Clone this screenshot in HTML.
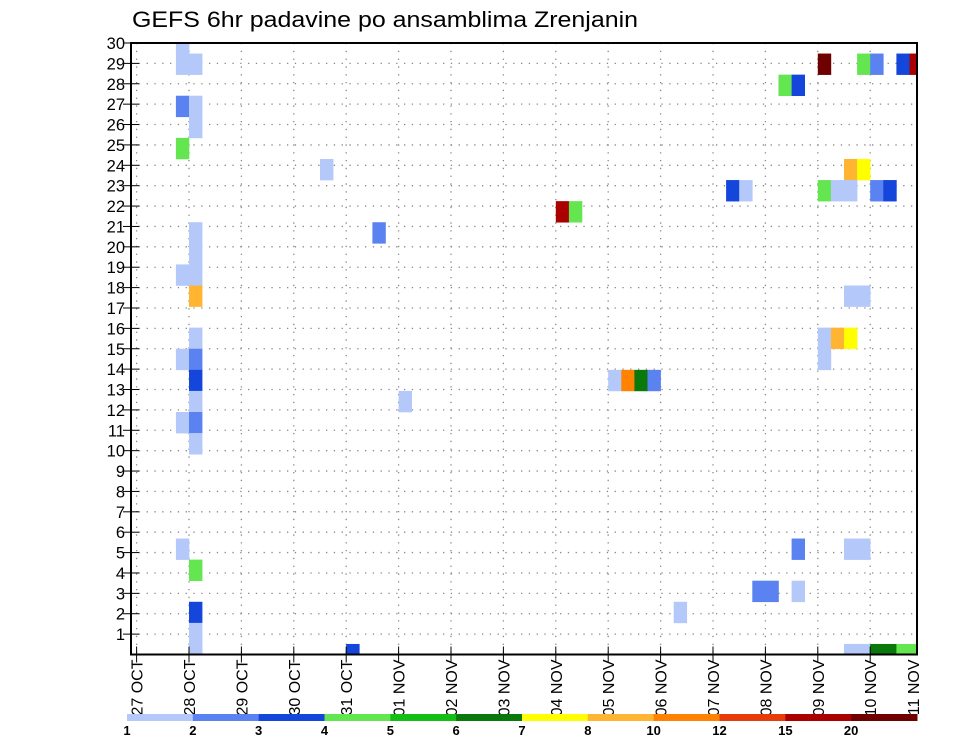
<!DOCTYPE html>
<html><head><meta charset="utf-8"><style>
html,body{margin:0;padding:0;background:#fff;}
svg{display:block;font-family:"Liberation Sans",sans-serif;}
</style></head><body>
<svg id="chart" width="960" height="742" viewBox="0 0 960 742" xmlns="http://www.w3.org/2000/svg">
<text x="132" y="27" font-size="22" textLength="506" lengthAdjust="spacingAndGlyphs" fill="#000">GEFS 6hr padavine po ansamblima Zrenjanin</text>
<defs><clipPath id="pc"><rect x="131" y="43" width="786" height="611.5"/></clipPath></defs>
<g id="grid"></g>
<g id="cells" clip-path="url(#pc)"></g>
<g id="axes"></g>
<g id="cbar"></g>
</svg>
<script>
// categories (color class index), time steps (6h index from 27 OCT 00z), member index
const dayLabels = ["27 OCT","28 OCT","29 OCT","30 OCT","31 OCT","01 NOV","02 NOV","03 NOV","04 NOV","05 NOV","06 NOV","07 NOV","08 NOV","09 NOV","10 NOV","11 NOV"];
const yTicks = [1,2,3,4,5,6,7,8,9,10,11,12,13,14,15,16,17,18,19,20,21,22,23,24,25,26,27,28,29,30];
const binLabels = ["1","2","3","4","5","6","7","8","10","12","15","20"];
const binColors = ["#b4c8fa","#5a82f0","#1446dc","#64e650","#14be14","#0a780a","#ffff00","#ffb432","#ff8200","#e63c0a","#aa0000","#6e0000"];
const cellStep =   [3,3,3,3,3,3,3,3, 4,4,4,4,4,4,4,4,4,4,4,4,4,4,4,4,4,4, 14,18,20,32,33,36,37,38,39,41,47,48,50,50,54,55,54,55,56,57,58,59,16,52,55,56,58,59,49,50,54,55,45,46,52,53,54,56,57,54,55,52,52,53,54];
const cellMember = [29,28,26,24,18,14,11,5, 28,26,25,20,19,18,17,15,14,13,12,11,10,4,2,1,0,0, 23,20,12,21,21,13,13,13,13,2,3,3,3,5,5,5,0,0,0,0,0,0,0,28,28,28,28,28,27,27,23,23,22,22,22,22,22,22,22,17,17,15,14,15,15];
const cellClass =  [0,0,1,3,0,0,0,0, 0,0,0,0,0,0,7,0,1,2,0,1,0,3,2,0,0,0, 0,1,0,10,3,0,8,5,1,0,1,1,0,1,0,0,0,0,5,5,3,3,2,11,3,1,2,10,3,2,7,6,2,0,3,0,0,1,2,0,0,0,0,7,6];

const NS="http://www.w3.org/2000/svg";
const L=131,R=917,T=43,B=654.5;
const xStep = k => 136.6 + k*13.1;
const xDay = d => 136.6 + d*52.4;
const yRow = r => B - r*(B-T)/30;
const memberPos = m => m*30/29;
function mk(tag,attrs,parent){const e=document.createElementNS(NS,tag);for(const a in attrs)e.setAttribute(a,attrs[a]);parent.appendChild(e);return e;}

const grid=document.getElementById('grid');
yTicks.forEach(t=>{
  const l=mk('line',{x1:L,x2:R,y1:yRow(t),y2:yRow(t),stroke:'#888','stroke-width':1.3,'stroke-dasharray':'1.3 6.5'},grid);
  
  
});
dayLabels.forEach((d,i)=>{
  const x=xDay(i); if(x>R) return;
  const l=mk('line',{x1:x,x2:x,y1:T,y2:B,stroke:'#888','stroke-width':1.3,'stroke-dasharray':'1.3 6.5'},grid);
  
  
});

const cells=document.getElementById('cells');
const h=(B-T)/29;
for(let i=0;i<cellStep.length;i++){
  const x0=xStep(cellStep[i]), x1=xStep(cellStep[i]+1);
  const yc=yRow(memberPos(cellMember[i]));
  const r=mk('rect',{x:x0,y:yc-h/2,width:x1-x0+0.3,height:h+0.3,fill:binColors[cellClass[i]]},cells);
  
  
}

const axes=document.getElementById('axes');
const frame=mk('rect',{x:L,y:T,width:R-L,height:B-T,fill:'none',stroke:'#000','stroke-width':2},axes);


yTicks.forEach(t=>{
  const y=yRow(t);
  mk('line',{x1:L-8,x2:L+8,y1:y,y2:y,stroke:'#000','stroke-width':1},axes);
  const tx=mk('text',{x:L-6,y:y+6,'font-size':16.5,'text-anchor':'end',fill:'#000'},axes);
  tx.textContent=t;
  
  
});
dayLabels.forEach((d,i)=>{
  const x=Math.min(xDay(i),913);
  if(xDay(i)<=R) mk('line',{x1:x,x2:x,y1:B-8,y2:B+8,stroke:'#000','stroke-width':1},axes);
  const tx=mk('text',{x:0,y:0,'font-size':16,'text-anchor':'end',fill:'#000',transform:`translate(${x+6},${B+5}) rotate(-90)`},axes);
  tx.textContent=d;
  
  
});

const cb=document.getElementById('cbar');
const cbL=127,cbR=917,cbW=(cbR-cbL)/binColors.length;
binColors.forEach((c,i)=>{
  const r=mk('rect',{x:cbL+i*cbW,y:714,width:cbW+0.5,height:7,fill:c},cb);
  
  
});
binLabels.forEach((s,i)=>{
  const t=mk('text',{x:cbL+i*cbW,y:735,'font-size':13,'font-weight':'bold','text-anchor':'middle',fill:'#000'},cb);
  t.textContent=s;
  
  
});
</script>
</body></html>
